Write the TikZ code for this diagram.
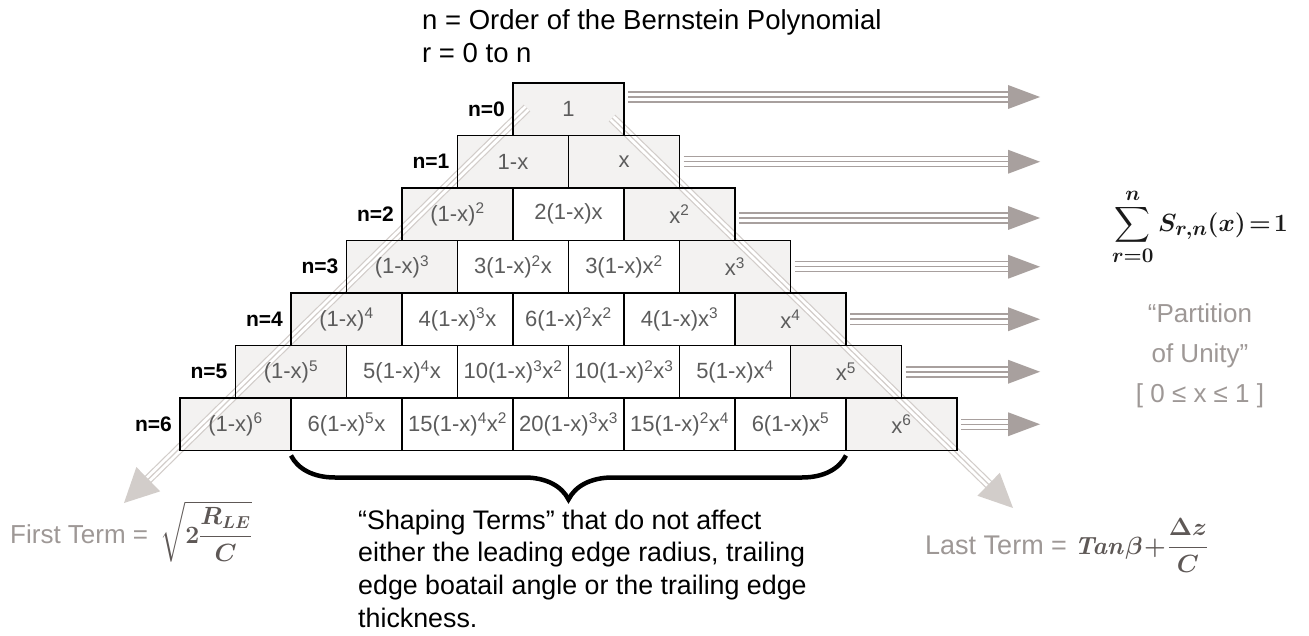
\documentclass[tikz,border=0pt]{standalone}
\usepackage{exscale}
\usepackage[no-math]{fontspec}
\setmainfont{Liberation Sans}
\usetikzlibrary{calc,decorations.pathreplacing}
\definecolor{edgefill}{HTML}{F3F2F1}
\definecolor{celltext}{HTML}{5C5C5C}
\definecolor{arrowgray}{HTML}{A8A09E}
\definecolor{diagray}{HTML}{D2CDCA}
\definecolor{notegray}{HTML}{9E9896}
\definecolor{formgray}{HTML}{5E5856}
\definecolor{sumcol}{HTML}{1A1A1A}
\newcommand\pw[1]{\textsuperscript{#1}}
\newsavebox\sumtermbox
\newsavebox\ftermbox
\newsavebox\ltermbox
\newcommand\bcell[3]{%
  \ifnum#2=0\relax\def\cf{none}\else\ifnum#2=#1\relax\def\cf{none}\else\def\cf{white}\fi\fi
  \node[cellbox,fill=\cf] (c#1-#2) at ({568.5-55.5*#1+111*#2},{109.25+52.5*#1}) {#3};}
\begin{document}
\sbox\sumtermbox{\fontsize{32}{36}\selectfont\color{sumcol}\boldmath$\displaystyle\sum_{r=0}^{n} S_{r,n}(x)\!=\!1$}%
\sbox\ftermbox{\fontsize{26}{33}\selectfont\color{formgray}\boldmath$\displaystyle\sqrt{2\frac{R_{LE}}{C}}$}%
\sbox\ltermbox{\fontsize{25}{33}\selectfont\color{formgray}\boldmath$\displaystyle \mathit{Tan}\beta\!+\!\frac{\Delta z}{C}$}%
\begin{tikzpicture}[x=1pt,y=-1pt,
  cellbox/.style={draw=black, line width=1.6pt, minimum width=111pt, minimum height=52.5pt,
    inner sep=0pt, outer sep=0pt, text=celltext, font=\fontsize{22}{24}\selectfont},
  rowlab/.style={font=\fontsize{21}{21}\selectfont\bfseries, inner sep=0pt, anchor=east},
  hshaft/.style={draw=arrowgray, line width=11.5pt,
    postaction={draw=white, line width=8.5pt},
    postaction={draw=arrowgray, line width=1.5pt}},
  dshaft/.style={draw=diagray, line width=9.4pt,
    postaction={draw=white, line width=7pt},
    postaction={draw=diagray, line width=1.2pt}},
  note/.style={inner sep=0pt, text=notegray, font=\fontsize{26}{33}\selectfont},
  unitynote/.style={inner sep=0pt, text=notegray, font=\fontsize{26}{40}\selectfont, align=center},
  body/.style={inner sep=0pt, text=black, font=\fontsize{26.8}{32.7}\selectfont, align=left},
  titletext/.style={inner sep=0pt, text=black, font=\fontsize{27.5}{33}\selectfont, align=left}]
\fill[white] (0,0) rectangle (1309,636);
\useasboundingbox (0,0) rectangle (1309,636);

% title
\node[titletext, anchor=north west] (title) at (422,9.5) {n = Order of the Bernstein Polynomial\\ r = 0 to n};

% gray fills of edge cells
\foreach \n in {0,...,6}{
  \fill[edgefill] (513-55.5*\n,83+52.5*\n) rectangle ++(111,52.5);
  \fill[edgefill] (513+55.5*\n,83+52.5*\n) rectangle ++(111,52.5);
}

% diagonal arrows
\coordinate (dls) at (527,108);
\coordinate (dlt) at (124,503);
\coordinate (drs) at (612,118);
\coordinate (drt) at (1013,508);
\coordinate (dlb) at ($(dlt)!34pt!(dls)$);
\coordinate (drb) at ($(drt)!34pt!(drs)$);
\draw[dshaft] (dls) -- ($(dlt)!32pt!(dls)$);
\draw[dshaft] (drs) -- ($(drt)!32pt!(drs)$);
\fill[diagray] (dlt) -- ($(dlb)!17pt!90:(dlt)$) -- ($(dlb)!17pt!-90:(dlt)$) -- cycle;
\fill[diagray] (drt) -- ($(drb)!16pt!90:(drt)$) -- ($(drb)!16pt!-90:(drt)$) -- cycle;

% cells
\bcell{0}{0}{1}
\bcell{1}{0}{1-x}
\bcell{1}{1}{x}
\bcell{2}{0}{(1-x)\pw{2}}
\bcell{2}{1}{2(1-x)x}
\bcell{2}{2}{x\pw{2}}
\bcell{3}{0}{(1-x)\pw{3}}
\bcell{3}{1}{3(1-x)\pw{2}x}
\bcell{3}{2}{3(1-x)x\pw{2}}
\bcell{3}{3}{x\pw{3}}
\bcell{4}{0}{(1-x)\pw{4}}
\bcell{4}{1}{4(1-x)\pw{3}x}
\bcell{4}{2}{6(1-x)\pw{2}x\pw{2}}
\bcell{4}{3}{4(1-x)x\pw{3}}
\bcell{4}{4}{x\pw{4}}
\bcell{5}{0}{(1-x)\pw{5}}
\bcell{5}{1}{5(1-x)\pw{4}x}
\bcell{5}{2}{10(1-x)\pw{3}x\pw{2}}
\bcell{5}{3}{10(1-x)\pw{2}x\pw{3}}
\bcell{5}{4}{5(1-x)x\pw{4}}
\bcell{5}{5}{x\pw{5}}
\bcell{6}{0}{(1-x)\pw{6}}
\bcell{6}{1}{6(1-x)\pw{5}x}
\bcell{6}{2}{15(1-x)\pw{4}x\pw{2}}
\bcell{6}{3}{20(1-x)\pw{3}x\pw{3}}
\bcell{6}{4}{15(1-x)\pw{2}x\pw{4}}
\bcell{6}{5}{6(1-x)x\pw{5}}
\bcell{6}{6}{x\pw{6}}

% row labels
\foreach \n in {0,...,6}{
  \node[rowlab] (l\n) at ($(c\n-0.west)+(-8,0)$) {n=\n};
}

% horizontal arrows
\foreach \n/\yy in {0/97,1/161.75,2/218,3/266.75,4/319.25,5/371.75,6/424.25}{
  \coordinate (he\n) at (1040,\yy);
  \draw[hshaft] ($(c\n-\n.east |- he\n)+(4,0)$) -- ($(he\n)+(-30,0)$);
  \fill[arrowgray] (he\n) -- ++(-32,-12) -- ++(0,24) -- cycle;
}

% brace
\draw[line width=4.5pt, decorate, decoration={brace, mirror, amplitude=44pt}]
  ([yshift=-5pt]c6-1.south west) -- ([yshift=-5pt]c6-5.south east);

% shaping terms text
\node[body, anchor=north west] (shape) at (358,509.5)
  {“Shaping Terms” that do not affect\\ either the leading edge radius, trailing\\
   edge boatail angle or the trailing edge\\ thickness.};

% first and last terms
\node[note, anchor=base west] (first) at (10,543) {First Term = \hspace{5pt}\usebox\ftermbox};
\node[note, anchor=base west, font=\fontsize{27}{33}\selectfont] (last) at (925,554) {Last Term = \usebox\ltermbox};

% sum
\node[inner sep=0pt] (sumf) at (1200,227) {\usebox\sumtermbox};
\node[unitynote] (unity) at (1200,356) {“Partition\\ of Unity”\\ {[} 0 ≤ x ≤ 1 ]};
\end{tikzpicture}
\end{document}
